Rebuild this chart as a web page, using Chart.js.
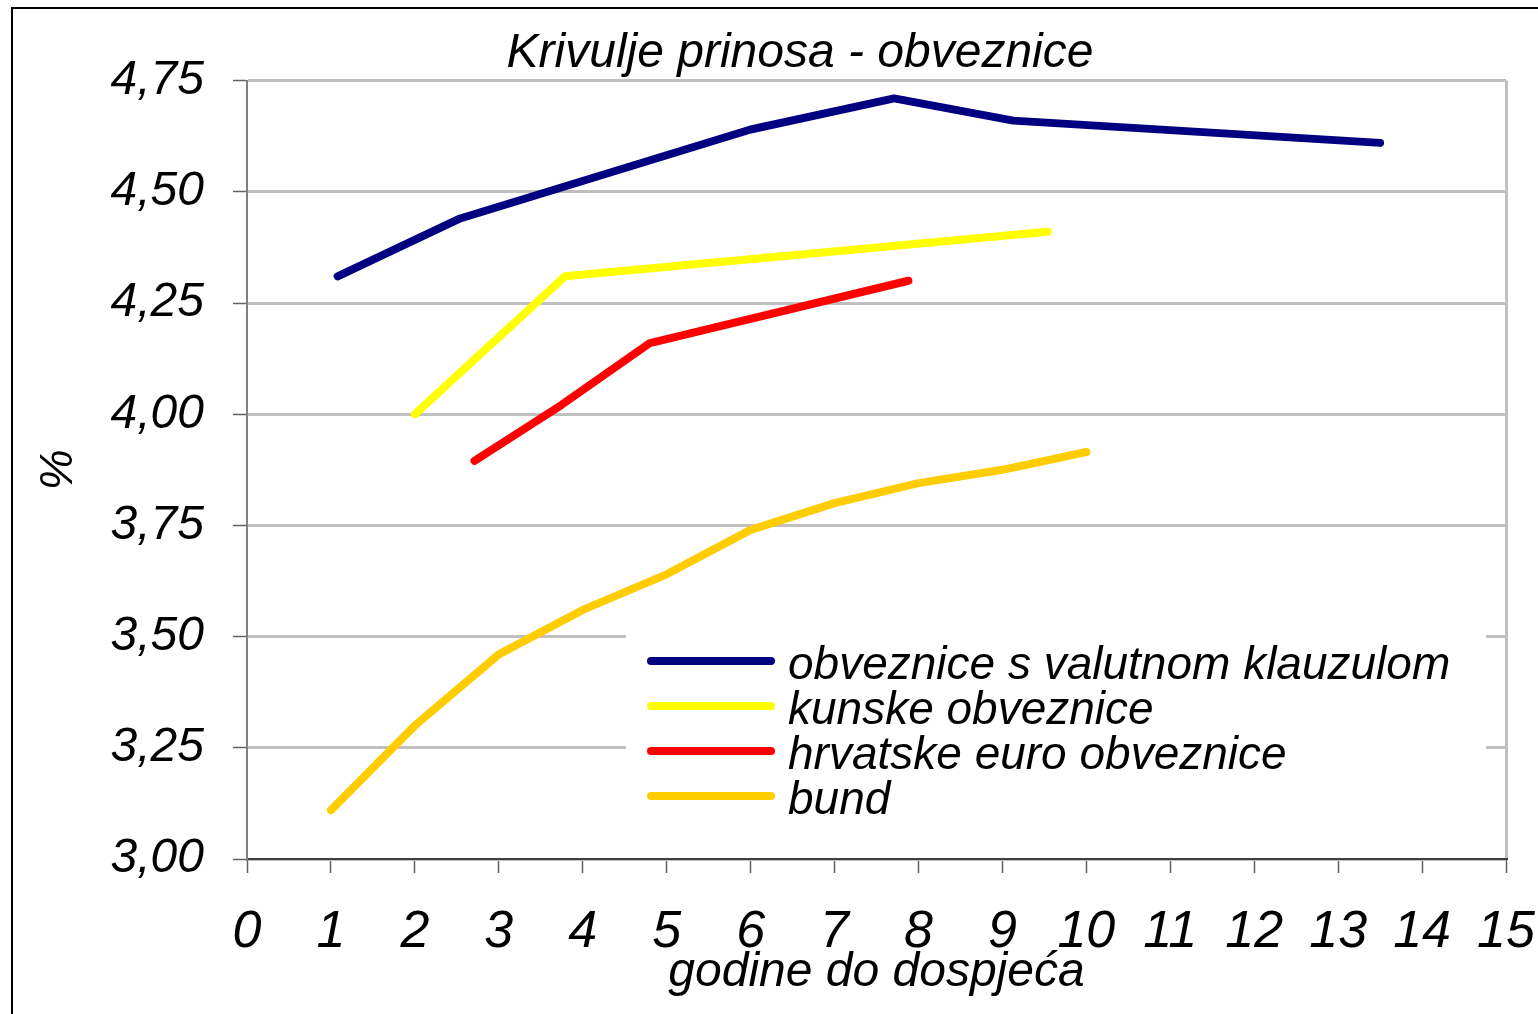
<!DOCTYPE html>
<html>
<head>
    <meta charset="utf-8">
    <title>Krivulje prinosa - obveznice</title>
    <script src="https://cdn.jsdelivr.net/npm/chart.js@4.4.0/dist/chart.umd.min.js"></script>
    <style>
        html, body {
            margin: 0;
            padding: 0;
            background-color: #fff;
            overflow: hidden;
        }
        #wrap {
            width: 1538px;
            height: 1014px;
        }
    </style>
</head>
<body>
<div id="wrap"><canvas id="yieldChart" width="1538" height="1014"></canvas></div>
<script>
    // podaci ocitani s grafa
    const chartTitle = 'Krivulje prinosa - obveznice';
    const xTitle = 'godine do dospjeća';
    const yTitle = '%';

    const seriesNames = ['obveznice s valutnom klauzulom', 'kunske obveznice', 'hrvatske euro obveznice', 'bund'];
    const seriesColors = ['#000080', '#FFFF00', '#FF0000', '#FFCC00'];

    const valutnaX = [1.08, 2.54, 6.0, 7.71, 9.13, 13.5];
    const valutnaY = [4.31, 4.44, 4.64, 4.71, 4.66, 4.61];

    const kunskeX = [2.0, 3.79, 9.54];
    const kunskeY = [4.00, 4.31, 4.41];

    const euroX = [2.71, 3.74, 4.8, 7.88];
    const euroY = [3.895, 4.02, 4.16, 4.30];

    const bundX = [1, 2, 3, 4, 5, 6, 7, 8, 9, 10];
    const bundY = [3.11, 3.30, 3.46, 3.56, 3.64, 3.74, 3.80, 3.845, 3.875, 3.915];

    const xTickLabels = ['0', '1', '2', '3', '4', '5', '6', '7', '8', '9', '10', '11', '12', '13', '14', '15'];
    const yTickValues = [3.00, 3.25, 3.50, 3.75, 4.00, 4.25, 4.50, 4.75];
    const yTickLabels = ['3,00', '3,25', '3,50', '3,75', '4,00', '4,25', '4,50', '4,75'];

    const fontFamily = "'Liberation Sans', Arial, sans-serif";

    function toPoints(xs, ys) {
        return xs.map((x, i) => ({x: x, y: ys[i]}));
    }

    const allX = [valutnaX, kunskeX, euroX, bundX];
    const allY = [valutnaY, kunskeY, euroY, bundY];

    const datasets = seriesNames.map((name, i) => ({
        label: name,
        data: toPoints(allX[i], allY[i]),
        borderColor: seriesColors[i],
        backgroundColor: seriesColors[i],
        borderWidth: 8,
        borderCapStyle: 'round',
        borderJoinStyle: 'round',
        pointRadius: 0,
        fill: false,
        tension: 0
    }));

    // okvir i bijela pozadina
    const framePlugin = {
        id: 'frame',
        beforeDraw(chart) {
            const ctx = chart.ctx;
            ctx.save();
            ctx.fillStyle = '#fff';
            ctx.fillRect(0, 0, chart.width, chart.height);
            ctx.strokeStyle = '#000';
            ctx.lineWidth = 2;
            ctx.strokeRect(12, 8, chart.width + 20, chart.height + 20);
            ctx.restore();
        }
    };

    // legenda unutar podrucja grafa
    const innerLegend = {
        id: 'innerLegend',
        afterDraw(chart) {
            const ctx = chart.ctx;
            ctx.save();
            ctx.fillStyle = '#fff';
            ctx.fillRect(626, 628, 860, 200);
            chart.data.datasets.forEach((ds, i) => {
                const y = 661 + i * 45;
                ctx.strokeStyle = ds.borderColor;
                ctx.lineWidth = 8;
                ctx.lineCap = 'round';
                ctx.beginPath();
                ctx.moveTo(651, y);
                ctx.lineTo(771, y);
                ctx.stroke();
                ctx.fillStyle = '#000';
                ctx.font = 'italic 46px ' + fontFamily;
                ctx.textBaseline = 'alphabetic';
                ctx.textAlign = 'left';
                ctx.fillText(ds.label, 788, y + 18);
            });
            ctx.restore();
        }
    };

    const chart = new Chart('yieldChart', {
        type: 'line',
        data: {datasets: datasets},
        plugins: [framePlugin, innerLegend],
        options: {
            responsive: false,
            animation: false,
            devicePixelRatio: 1,
            font: {family: fontFamily},
            layout: {
                padding: {left: 62, right: 0, top: 0, bottom: 0}
            },
            plugins: {
                legend: {display: false},
                tooltip: {enabled: false},
                title: {
                    display: true,
                    text: chartTitle,
                    color: '#000',
                    font: {family: fontFamily, size: 48, style: 'italic', weight: 'normal'},
                    padding: {top: 25, bottom: -2}
                }
            },
            scales: {
                x: {
                    type: 'linear',
                    min: 0,
                    max: 15,
                    afterFit(scale) {
                        scale.height = 155;
                        scale.paddingLeft = 0;
                        scale.paddingRight = 32;
                    },
                    ticks: {
                        stepSize: 1,
                        padding: 28,
                        color: '#000',
                        font: {family: fontFamily, size: 52, style: 'italic'},
                        callback: (v) => xTickLabels[v]
                    },
                    grid: {
                        color: (c) => (c.tick && c.tick.value === 15) ? '#C0C0C0' : 'rgba(0,0,0,0)',
                        lineWidth: 3,
                        drawTicks: true,
                        tickLength: 14,
                        tickColor: '#606060',
                        tickWidth: 1.5
                    },
                    border: {color: '#404040', width: 2},
                    title: {
                        display: true,
                        text: xTitle,
                        color: '#000',
                        font: {family: fontFamily, size: 48, style: 'italic'},
                        padding: {top: 0, bottom: 13}
                    }
                },
                y: {
                    min: 3,
                    max: 4.75,
                    afterFit(scale) {
                        scale.width = 185;
                    },
                    ticks: {
                        stepSize: 0.25,
                        padding: 29,
                        color: '#000',
                        font: {family: fontFamily, size: 48, style: 'italic'},
                        callback: (v) => yTickLabels[yTickValues.findIndex(t => Math.abs(t - v) < 0.001)]
                    },
                    grid: {
                        color: '#C0C0C0',
                        lineWidth: 3,
                        drawTicks: true,
                        tickLength: 14,
                        tickColor: '#606060',
                        tickWidth: 1.5
                    },
                    border: {color: '#808080', width: 2},
                    title: {
                        display: true,
                        text: yTitle,
                        color: '#000',
                        font: {family: fontFamily, size: 46, style: 'italic'},
                        padding: {top: -30, bottom: 0}
                    }
                }
            }
        }
    });
</script>
</body>
</html>
